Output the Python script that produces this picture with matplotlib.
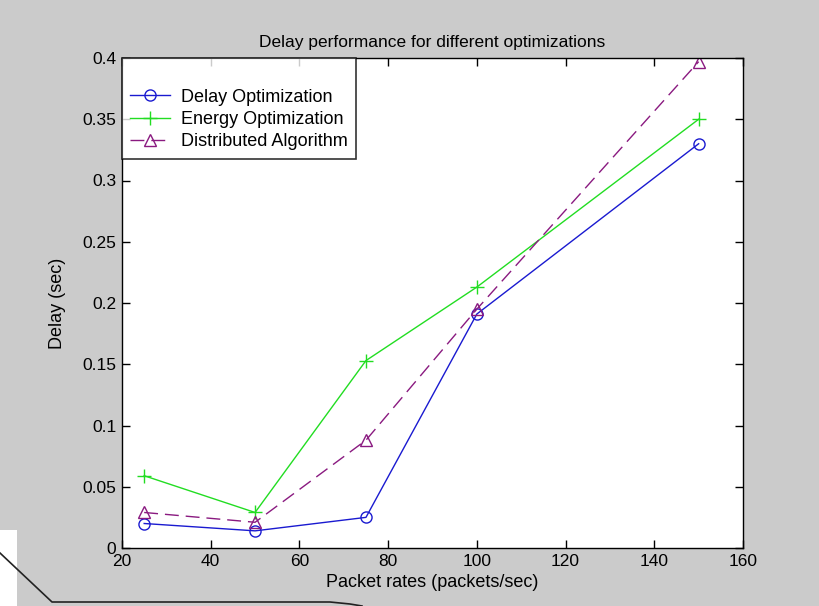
import matplotlib
matplotlib.use("Agg")
import matplotlib.pyplot as plt
from matplotlib.lines import Line2D
from matplotlib.patches import Rectangle

# packet rates (packets/sec)
rates = [25, 50, 75, 100, 150]

# delay (sec) for each scheme
delay_opt = [0.020, 0.014, 0.025, 0.191, 0.330]
energy_opt = [0.059, 0.029, 0.153, 0.213, 0.350]
distributed = [0.029, 0.021, 0.088, 0.195, 0.397]

labels = ["Delay Optimization", "Energy Optimization", "Distributed Algorithm"]
xticks = [20, 40, 60, 80, 100, 120, 140, 160]
yticks = [0, 0.05, 0.1, 0.15, 0.2, 0.25, 0.3, 0.35, 0.4]
ytick_labels = ["0", "0.05", "0.1", "0.15", "0.2", "0.25", "0.3", "0.35", "0.4"]

plt.rcParams["font.family"] = ["Liberation Sans", "DejaVu Sans"]

W, H = 819, 606
fig = plt.figure(figsize=(W / 100, H / 100), dpi=100)
fig.patch.set_facecolor("#cbcbcb")

ax = fig.add_axes([122 / W, 1 - 548 / H, 621 / W, 490 / H])
ax.set_facecolor("white")

ax.plot(rates, delay_opt, color="#1a1ad0", lw=1.0, marker="o", ms=8,
        mfc="none", mec="#1a1ad0", mew=1.0, label=labels[0])
ax.plot(rates, energy_opt, color="#22dd22", lw=1.0, marker="+", ms=10,
        mew=1.0, label=labels[1])
ax.plot(rates, distributed, color="#8a1a80", lw=1.0, marker="^", ms=9,
        mfc="none", mec="#8a1a80", mew=1.0, dashes=(10, 5), label=labels[2])

ax.set_xlim(20, 160)
ax.set_ylim(0, 0.4)
ax.set_xticks(xticks)
ax.set_yticks(yticks)
ax.set_yticklabels(ytick_labels)
ax.tick_params(direction="in", length=6, width=1, top=True, right=True,
               labelsize=12.5, pad=4)
for s in ax.spines.values():
    s.set_linewidth(1.0)

ax.set_title("Delay performance for different optimizations", fontsize=12.5, pad=8)
ax.set_xlabel("Packet rates (packets/sec)", fontsize=13, labelpad=4)
ax.set_ylabel("Delay (sec)", fontsize=13, labelpad=12)

leg = ax.legend(loc="upper left", bbox_to_anchor=(0.0, 1.0), fontsize=13,
                frameon=True, fancybox=False, edgecolor="black",
                borderaxespad=0.0, handlelength=2.2, handletextpad=0.6,
                labelspacing=0.3, borderpad=0.45, title=" ",
                title_fontsize=13)
leg.get_frame().set_linewidth(1.2)

# white strip and outline at lower left
fig.add_artist(Rectangle((0, 0), 17 / W, 76 / H, transform=fig.transFigure,
                         facecolor="white", edgecolor="none"))
xs = [0, 52, 330, 350, 362]
ys = [553, 602, 602, 604, 606]
fig.add_artist(Line2D([x / W for x in xs], [1 - y / H for y in ys],
                      transform=fig.transFigure, color="#222222", lw=1.2))

fig.savefig("out.png", dpi=100, facecolor=fig.get_facecolor())
